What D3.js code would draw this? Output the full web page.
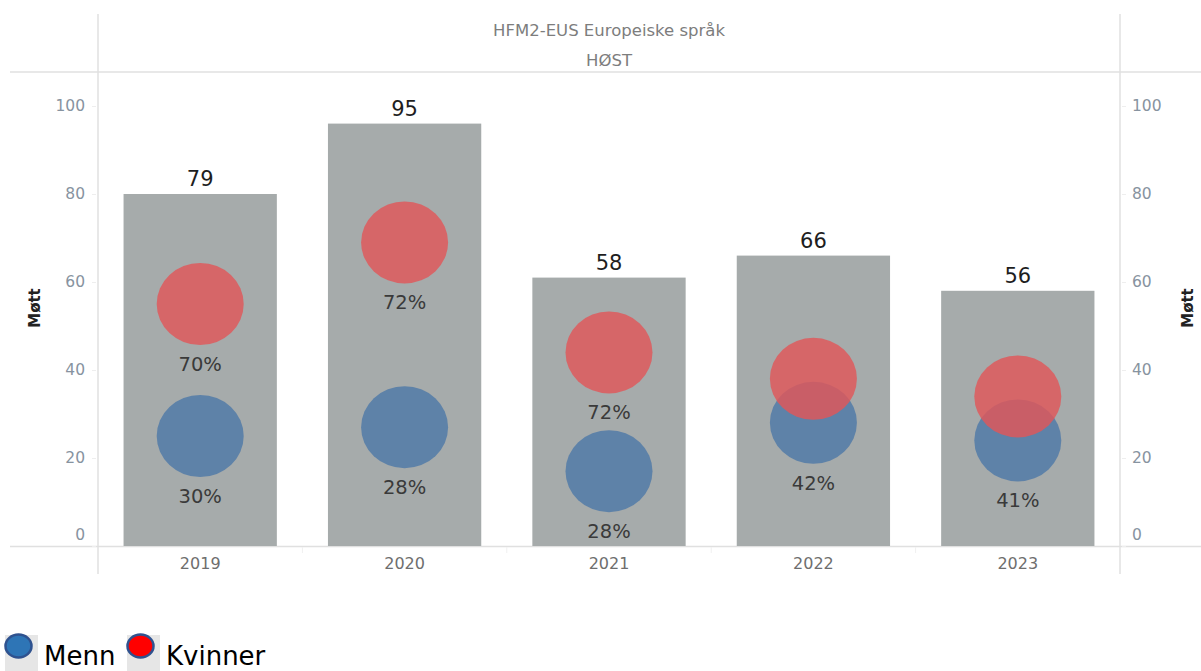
<!DOCTYPE html>
<html>
<head>
<meta charset="utf-8">
<script src="https://cdn.jsdelivr.net/npm/d3@7"></script>
<style>
  html, body { margin: 0; padding: 0; background: #fff; }
  svg { display: block; }
  text { font-family: "DejaVu Sans", "Open Sans", sans-serif; }
</style>
</head>
<body>
<svg id="chart" width="1201" height="671"></svg>
<script>
// ---- Data ----
const years = ["2019", "2020", "2021", "2022", "2023"];
const barValues = [80, 96, 61, 66, 58];          // bar heights (Møtt axis)
const barLabels = [79, 95, 58, 66, 56];          // labels above bars
const mennValues = [25, 27, 17, 28, 24];         // blue circle positions
const kvinnerValues = [55, 69, 44, 38, 34];      // red circle positions
const mennPct = ["30%", "28%", "28%", "42%", "41%"];
const kvinnerPct = ["70%", "72%", "72%", null, null]; // hidden where overlapping
const yTicks = [0, 20, 40, 60, 80, 100];
const title1 = "HFM2-EUS Europeiske språk";
const title2 = "HØST";
const yTitle = "Møtt";
const legendItems = ["Menn", "Kvinner"];

(function () {
// ---- Layout ----
const svg = d3.select("#chart");
const pL = 98, pR = 1120, pT = 72, pB = 546;
const FONT = "'DejaVu Sans', sans-serif";

const x = d3.scaleBand().domain(years).range([pL, pR]).paddingInner(0.25).paddingOuter(0.125);
const y = d3.scaleLinear().domain([0, 100]).range([pB, 106]);

const gridCol = "#e0e0e0";

// frame lines
svg.append("line").attr("x1", 10).attr("x2", 1201).attr("y1", pT).attr("y2", pT)
  .attr("stroke", gridCol).attr("stroke-width", 1.5);
svg.append("line").attr("x1", 10).attr("x2", 1201).attr("y1", pB + 0.5).attr("y2", pB + 0.5)
  .attr("stroke", gridCol).attr("stroke-width", 1.5);
[pL, pR].forEach(xx => {
  svg.append("line").attr("x1", xx).attr("x2", xx).attr("y1", 14).attr("y2", 574)
    .attr("stroke", gridCol).attr("stroke-width", 1.5);
});

// header
svg.append("text").attr("x", (pL + pR) / 2).attr("y", 36).attr("text-anchor", "middle")
  .attr("font-size", 16.5).attr("fill", "#7d7d7d").text(title1);
svg.append("text").attr("x", (pL + pR) / 2).attr("y", 66).attr("text-anchor", "middle")
  .attr("font-size", 16.5).attr("fill", "#7d7d7d").text(title2);

// left axis
const leftAxis = d3.axisLeft(y).tickValues(yTicks).tickSize(4).tickPadding(7);
const gl = svg.append("g").attr("transform", `translate(${pL - 2},0)`).call(leftAxis);
// right axis
const rightAxis = d3.axisRight(y).tickValues(yTicks).tickSize(4).tickPadding(6);
const gr = svg.append("g").attr("transform", `translate(${pR + 2},0)`).call(rightAxis);
[gl, gr].forEach(g => {
  g.select(".domain").remove();
  g.selectAll(".tick line").attr("stroke", "#eeeeee");
  g.selectAll(".tick text").attr("font-size", 15.5).attr("fill", "#8793a0")
    .attr("font-family", FONT);
  g.selectAll(".tick").filter(d => d === 0).select("text").attr("dy", "-0.4em");
});

// axis titles
svg.append("text").attr("transform", `translate(40,308) rotate(-90)`)
  .attr("text-anchor", "middle").attr("font-size", 15).attr("font-weight", "bold")
  .attr("fill", "#222").text(yTitle);
svg.append("text").attr("transform", `translate(1193,308) rotate(-90)`)
  .attr("text-anchor", "middle").attr("font-size", 15).attr("font-weight", "bold")
  .attr("fill", "#222").text(yTitle);

// x axis labels
const xAxis = d3.axisBottom(x).tickSize(0).tickPadding(12);
const gx = svg.append("g").attr("transform", `translate(0,${pB})`).call(xAxis);
gx.select(".domain").remove();
gx.selectAll(".tick text").attr("font-size", 16).attr("fill", "#6e6e6e")
  .attr("font-family", FONT);

// faint band separators
years.slice(1).forEach(yr => {
  const sx = x(yr) - x.step() * x.paddingInner() / 2;
  svg.append("line").attr("x1", sx).attr("x2", sx).attr("y1", pB + 1).attr("y2", pB + 7)
    .attr("stroke", "#f0f0f0").attr("stroke-width", 1);
});

// bars
svg.append("g").selectAll("rect").data(years).join("rect")
  .attr("x", d => x(d)).attr("width", x.bandwidth())
  .attr("y", (d, i) => y(barValues[i])).attr("height", (d, i) => y(0) - y(barValues[i]))
  .attr("fill", "#a6abab");

// bar labels
svg.append("g").selectAll("text").data(years).join("text")
  .attr("x", d => x(d) + x.bandwidth() / 2)
  .attr("y", (d, i) => y(barValues[i]) - 8)
  .attr("text-anchor", "middle").attr("font-size", 21).attr("fill", "#1e1e1e")
  .text((d, i) => barLabels[i]);

const rx = 43.5, ry = 41;
const cx = d => x(d) + x.bandwidth() / 2;

// circles: Menn (blue) then Kvinner (red, on top)
svg.append("g").selectAll("ellipse").data(years).join("ellipse")
  .attr("cx", cx).attr("cy", (d, i) => y(mennValues[i]))
  .attr("rx", rx).attr("ry", ry)
  .attr("fill", "#4e79a7").attr("fill-opacity", 0.82);
svg.append("g").selectAll("ellipse").data(years).join("ellipse")
  .attr("cx", cx).attr("cy", (d, i) => y(kvinnerValues[i]))
  .attr("rx", rx).attr("ry", ry)
  .attr("fill", "#e15759").attr("fill-opacity", 0.82);

// percent labels
svg.append("g").selectAll("text").data(years).join("text")
  .attr("x", cx).attr("y", (d, i) => y(mennValues[i]) + 67)
  .attr("text-anchor", "middle").attr("font-size", 19.5).attr("fill", "#3a3a3a")
  .text((d, i) => mennPct[i]);
svg.append("g").selectAll("text").data(years.filter((d, i) => kvinnerPct[i] !== null)).join("text")
  .attr("x", cx).attr("y", d => y(kvinnerValues[years.indexOf(d)]) + 67)
  .attr("text-anchor", "middle").attr("font-size", 19.5).attr("fill", "#3a3a3a")
  .text(d => kvinnerPct[years.indexOf(d)]);

// legend
const legendX = [5, 127];
const legendFill = ["#2e75b6", "#ff0000"];
const lg = svg.append("g");
legendItems.forEach((name, i) => {
  const lx = legendX[i];
  lg.append("rect").attr("x", lx).attr("y", 635).attr("width", 33).attr("height", 36).attr("fill", "#e6e6e6");
  lg.append("ellipse").attr("cx", lx + 13.5).attr("cy", 646).attr("rx", 13).attr("ry", 11.5)
    .attr("fill", legendFill[i]).attr("stroke", "#2f528f").attr("stroke-width", 2.5);
  lg.append("text").attr("x", lx + 39).attr("y", 665).attr("font-size", 26)
    .attr("font-family", "'Liberation Sans', Arial, sans-serif").attr("fill", "#000").text(name);
});
})();
</script>
</body>
</html>
